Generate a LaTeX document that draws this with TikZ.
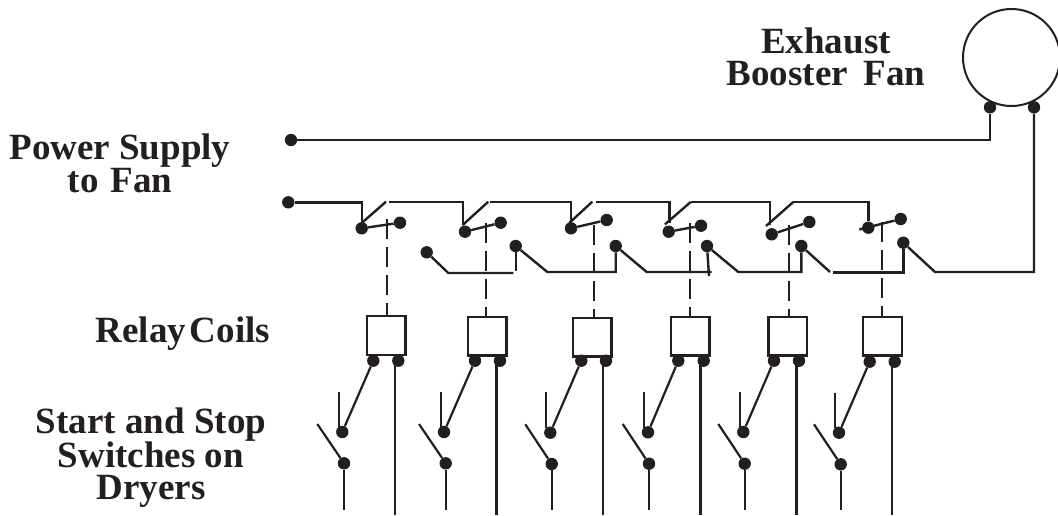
\documentclass[tikz,border=0pt]{standalone}
\usepackage{fontspec}
\setmainfont{Liberation Serif}
\definecolor{ink}{HTML}{231F20}
\tikzset{
  wire/.style={draw=ink, line width=2.4pt},
  thinwire/.style={draw=ink, line width=2.2pt},
  linkage/.style={draw=ink, line width=1.7pt, dash pattern=on 20pt off 8pt},
  contact/.style={circle, fill=ink, inner sep=0pt, minimum size=12.4pt},
  coil/.style={rectangle, draw=ink, line width=2.4pt, minimum width=38.6pt, minimum height=38.6pt},
  label/.style={font=\bfseries\fontsize{37}{32}\selectfont, text=ink, align=center, inner sep=0pt, anchor=base},
}
\begin{document}
\begin{tikzpicture}[x=1pt, y=-1pt]
    \useasboundingbox (0,0) rectangle (1058,515);

    %% labels
    \node[label] (exhaust) at (826,85) {Exhaust\\Booster\hspace{0.42em}Fan};
    \node[label] (power) at (120,192.7) {Power Supply\\to\hspace{0.32em}Fan};
    \node[label] (relay) at (183,342.2) {Relay\hspace{0.1em}Coils};
    \node[label] (start) at (151,499.7) {Start and Stop\\Switches on\\Dryers};

    %% fan and supply
    \node[circle, draw=ink, line width=2pt, inner sep=0pt, minimum size=97pt] (fan) at (1011.5,57.5) {};
    \node[contact] (fanl) at (990,107.3) {};
    \node[contact] (fanr) at (1034,107.3) {};
    \node[contact] (supply) at (291,140) {};
    \node[contact] (feed) at (288.3,202.3) {};
    \draw[wire] (supply) -| (fanl);

    %% relay contacts, top row
    \node[contact] (sw1) at (361.7,228.3) {};
    \node[contact] (sw2) at (465,231.7) {};
    \node[contact] (sw3) at (571,228.3) {};
    \node[contact] (sw4) at (668.7,231.7) {};
    \node[contact] (sw5) at (771.7,234.3) {};
    \node[contact] (sw6) at (868.3,227.7) {};

    \node[contact] (cl1) at (400,222.7) {};
    \node[contact] (cl2) at (500.7,222.7) {};
    \node[contact] (cl3) at (606.7,220) {};
    \node[contact] (cl4) at (701,225.7) {};
    \node[contact] (cl5) at (809.3,222) {};
    \node[contact] (cl6) at (900.7,219) {};

    \coordinate (hg1) at (361.7,223);
    \coordinate (hg2) at (462.7,225);
    \coordinate (hg3) at (569.3,223);
    \coordinate (hg4) at (669.3,223);
    \coordinate (hg5) at (770,225);
    \coordinate (bl4) at (665,224.3);
    \coordinate (bl5) at (766,226);
    \coordinate (tip1) at (386,201.7);
    \coordinate (tip2) at (488.3,201.7);
    \coordinate (tip3) at (592.3,201.7);
    \coordinate (tip4) at (690.7,202);
    \coordinate (tip5) at (793.3,202);
    \coordinate (top1) at (389,202);
    \coordinate (top2) at (490,202);
    \coordinate (top3) at (595.7,202);
    \coordinate (stub6) at (859.3,229.5);

    \draw[wire] (feed) -| (sw1);
    \draw[wire] (top1) -| (hg2);
    \draw[wire] (top2) -| (sw3);
    \draw[wire] (top3) -| (hg4);
    \draw[wire] (tip4) -| (hg5);
    \draw[wire] (tip5) -| (sw6);

    \draw[wire] (hg1) -- (tip1);
    \draw[wire] (hg2) -- (tip2);
    \draw[wire] (hg3) -- (tip3);
    \draw[wire] (bl4) -- (tip4);
    \draw[wire] (bl5) -- (tip5);

    \draw[wire] (sw1) -- (cl1);
    \draw[wire] (sw2) -- (cl2);
    \draw[wire] (sw3) -- (cl3);
    \draw[wire] (sw4) -- (cl4);
    \draw[wire] (sw5) -- (cl5);
    \draw[wire] (stub6) -- (cl6);

    %% relay contacts, lower row
    \node[contact] (lo1) at (426.7,252.3) {};
    \node[contact] (lo2) at (515.7,246) {};
    \node[contact] (lo3) at (615.7,246) {};
    \node[contact] (lo4) at (707,246) {};
    \node[contact] (lo5) at (801.3,246) {};
    \node[contact] (lo6) at (903.3,242.7) {};

    \coordinate (rn1) at (448.3,273);
    \coordinate (rn2) at (547.3,272);
    \coordinate (rn3) at (646.7,272);
    \coordinate (rn4) at (738.3,272);
    \coordinate (rn5) at (830,272);
    \coordinate (rn6) at (935,272);
    \coordinate (en1) at (513.3,273);
    \coordinate (dn2) at (515.7,271);
    \coordinate (en3) at (711.7,272);
    \coordinate (dn4) at (709,276);
    \coordinate (st6) at (832.7,272.5);

    \draw[wire] (lo1) -- (rn1) -- (en1);
    \draw[wire] (lo2) -- (dn2);
    \draw[wire] (lo2) -- (rn2) -| (lo3);
    \draw[wire] (lo3) -- (rn3) -- (en3);
    \draw[wire] (lo4) -- (dn4);
    \draw[wire] (lo4) -- (rn4) -| (lo5);
    \draw[wire] (lo5) -- (rn5);
    \draw[wire] (st6) -| (lo6);
    \draw[wire] (lo6) -- (rn6) -| (fanr);

    %% coils
    \node[coil] (coil1) at (386.3,335.5) {};
    \node[coil] (coil2) at (487,336) {};
    \node[coil] (coil3) at (592,337) {};
    \node[coil] (coil4) at (690.3,336) {};
    \node[coil] (coil5) at (787.7,336) {};
    \node[coil] (coil6) at (882.5,336.3) {};

    \coordinate (ln1) at (387.3,219.3);
    \coordinate (ln2) at (486.3,223);
    \coordinate (ln3) at (594.3,225);
    \coordinate (ln4) at (690,223);
    \coordinate (ln5) at (789.3,225);
    \coordinate (ln6) at (881.7,221.7);

    \draw[linkage] (ln1) -- (ln1 |- coil1.north);
    \draw[linkage] (ln2) -- (ln2 |- coil2.north);
    \draw[linkage] (ln3) -- (ln3 |- coil3.north);
    \draw[linkage] (ln4) -- (ln4 |- coil4.north);
    \draw[linkage] (ln5) -- (ln5 |- coil5.north);
    \draw[linkage] (ln6) -- (ln6 |- coil6.north);

    %% terminals under the coils
    \node[contact] (ta1) at (373.3,360.7) {};
    \node[contact] (tb1) at (398.3,360.7) {};
    \node[contact] (ta2) at (475,360.7) {};
    \node[contact] (tb2) at (500,360.7) {};
    \node[contact] (ta3) at (581.3,360.7) {};
    \node[contact] (tb3) at (606,360.7) {};
    \node[contact] (ta4) at (678.3,360.7) {};
    \node[contact] (tb4) at (703.7,360.7) {};
    \node[contact] (ta5) at (774,360.7) {};
    \node[contact] (tb5) at (799,360.7) {};
    \node[contact] (ta6) at (869.7,361.7) {};
    \node[contact] (tb6) at (894.7,361.7) {};

    %% dryer switches
    \node[contact] (up1) at (342.3,432) {};
    \node[contact] (up2) at (444,432) {};
    \node[contact] (up3) at (550.3,432.7) {};
    \node[contact] (up4) at (648,432.3) {};
    \node[contact] (up5) at (743.3,432) {};
    \node[contact] (up6) at (839,432.7) {};

    \node[contact] (dw1) at (344,463.3) {};
    \node[contact] (dw2) at (445.7,463.3) {};
    \node[contact] (dw3) at (551.7,464) {};
    \node[contact] (dw4) at (649,463.7) {};
    \node[contact] (dw5) at (744.7,463.7) {};
    \node[contact] (dw6) at (840.7,464.3) {};

    \coordinate (ar1) at (317.3,424);
    \coordinate (ar2) at (419,424);
    \coordinate (ar3) at (525.3,424.3);
    \coordinate (ar4) at (622.7,424);
    \coordinate (ar5) at (718.3,424);
    \coordinate (ar6) at (814,424.3);

    \coordinate (sa1) at (339,392.3);
    \coordinate (sb1) at (339,428);
    \coordinate (sa2) at (440.7,392.3);
    \coordinate (sb2) at (440.7,428);
    \coordinate (sa3) at (546.3,392.3);
    \coordinate (sb3) at (546.3,428);
    \coordinate (sa4) at (643.7,392.3);
    \coordinate (sb4) at (643.7,428);
    \coordinate (sa5) at (739.7,392.3);
    \coordinate (sb5) at (739.7,428);
    \coordinate (sa6) at (835,393);
    \coordinate (sb6) at (835,428);

    \draw[thinwire] (ta1) -- (up1);
    \draw[thinwire] (ta2) -- (up2);
    \draw[thinwire] (ta3) -- (up3);
    \draw[thinwire] (ta4) -- (up4);
    \draw[thinwire] (ta5) -- (up5);
    \draw[thinwire] (ta6) -- (up6);

    \draw[thinwire] (sa1) -- (sb1);
    \draw[thinwire] (sa2) -- (sb2);
    \draw[thinwire] (sa3) -- (sb3);
    \draw[thinwire] (sa4) -- (sb4);
    \draw[thinwire] (sa5) -- (sb5);
    \draw[thinwire] (sa6) -- (sb6);

    \draw[thinwire] (ar1) -- (dw1);
    \draw[thinwire] (ar2) -- (dw2);
    \draw[thinwire] (ar3) -- (dw3);
    \draw[thinwire] (ar4) -- (dw4);
    \draw[thinwire] (ar5) -- (dw5);
    \draw[thinwire] (ar6) -- (dw6);

    %% lines running off the bottom
    \coordinate (ot1) at (344,510);
    \coordinate (ot2) at (445.7,510);
    \coordinate (ot3) at (551.7,510);
    \coordinate (ot4) at (649,510);
    \coordinate (ot5) at (744.7,510);
    \coordinate (ot6) at (840.7,510);
    \coordinate (rt1) at (394.7,515);
    \coordinate (rt2) at (496.3,515);
    \coordinate (rt3) at (602.7,515);
    \coordinate (rt4) at (700.3,515);
    \coordinate (rt5) at (796.3,515);
    \coordinate (rt6) at (891.7,515);

    \draw[wire] (dw1) -- (ot1);
    \draw[wire] (dw2) -- (ot2);
    \draw[wire] (dw3) -- (ot3);
    \draw[wire] (dw4) -- (ot4);
    \draw[wire] (dw5) -- (ot5);
    \draw[wire] (dw6) -- (ot6);

    \draw[wire] (rt1 |- tb1) -- (rt1);
    \draw[wire] (rt2 |- tb2) -- (rt2);
    \draw[wire] (rt3 |- tb3) -- (rt3);
    \draw[wire] (rt4 |- tb4) -- (rt4);
    \draw[wire] (rt5 |- tb5) -- (rt5);
    \draw[wire] (rt6 |- tb6) -- (rt6);

\end{tikzpicture}
\end{document}
